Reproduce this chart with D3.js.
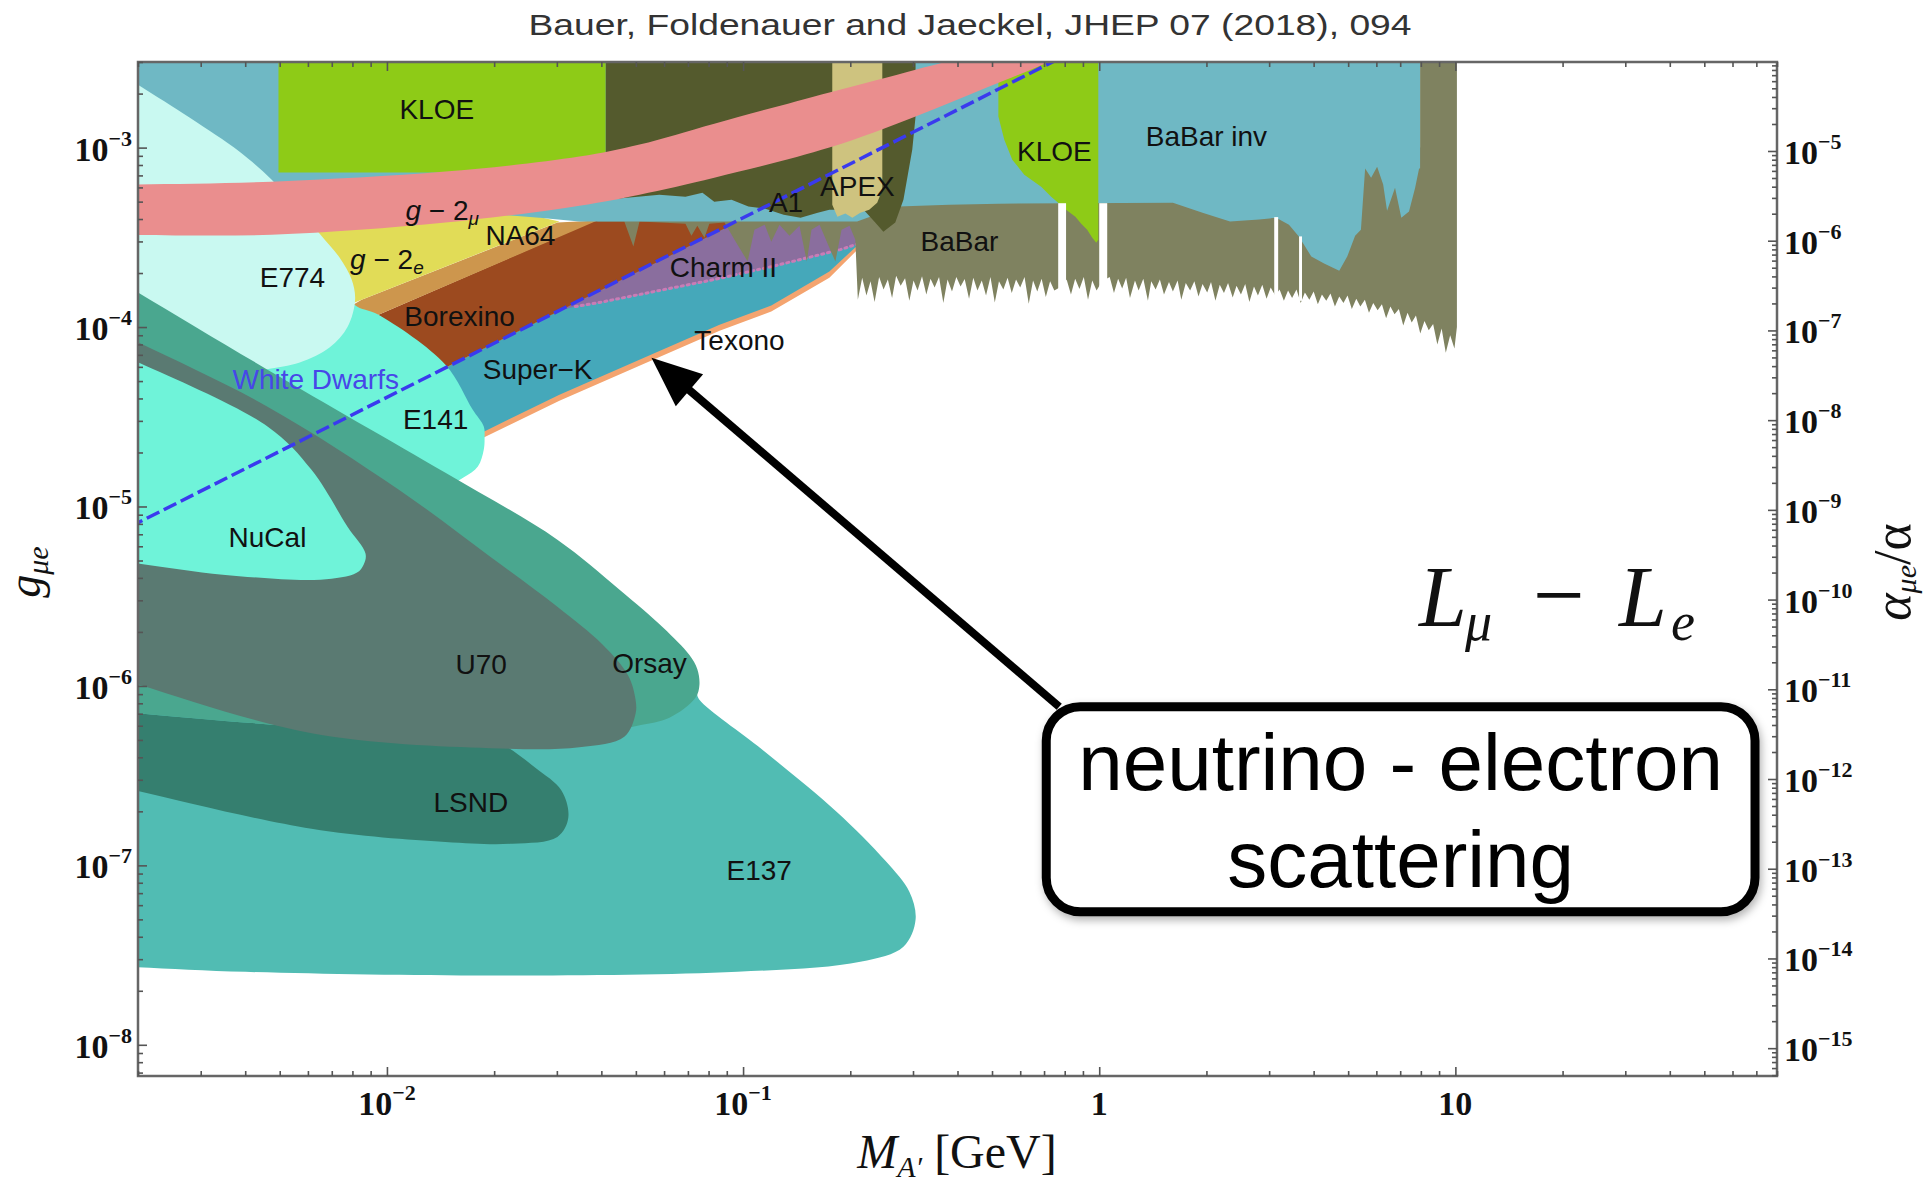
<!DOCTYPE html>
<html>
<head>
<meta charset="utf-8">
<script src="https://cdn.jsdelivr.net/npm/d3@7"></script>
<style>
  body { margin: 0; background: #fff; }
  svg { display: block; }
  .lbl { font-family: "Liberation Sans", Arial, sans-serif; font-size: 28px; }
  .num { font-family: "Liberation Serif", "Times New Roman", serif; font-weight: bold; font-size: 34px; fill: #111; }
</style>
</head>
<body>
<div id="chart"></div>
<script>
// Dark photon L_mu - L_e exclusion plot: mass in GeV, coupling g_mue
const massRange = [0.002, 80];
const gRange = [6.7e-9, 3.0e-3];

const xTickLabels = [
  { v: 1e-2, base: "10", exp: "−2" },
  { v: 1e-1, base: "10", exp: "−1" },
  { v: 1, base: "1", exp: "" },
  { v: 10, base: "10", exp: "" }
];
const gTickLabels = [1e-8, 1e-7, 1e-6, 1e-5, 1e-4, 1e-3];
const alphaTickLabels = [1e-15, 1e-14, 1e-13, 1e-12, 1e-11, 1e-10, 1e-9, 1e-8, 1e-7, 1e-6, 1e-5];

// constraint regions, [mass, g] outlines
const texono = [[1.46e-2, 5.94e-5], [9.96e-2, 4.0e-4], [0.218, 3.9e-4], [0.218, 2.92e-4], [0.1747, 1.88e-4],
  [0.120, 1.22e-4], [8.59e-2, 9.55e-5], [5.53e-2, 6.50e-5], [3.05e-2, 3.89e-5], [1.87e-2, 2.42e-5], [1.55e-2, 2.2e-5]];
const superK = [[1.46e-2, 5.94e-5], [9.96e-2, 4.0e-4], [0.215, 3.9e-4], [0.215, 2.99e-4], [0.1747, 2.04e-4],
  [0.120, 1.32e-4], [8.59e-2, 1.03e-4], [5.53e-2, 7.02e-5], [3.05e-2, 4.20e-5], [1.87e-2, 2.61e-5], [1.55e-2, 2.4e-5]];
const charmUpper = [[3.05e-2, 1.24e-4], [9.96e-2, 4.0e-4], [0.215, 3.9e-4]];
const charmLower = [[3.38e-2, 1.30e-4], [3.95e-2, 1.37e-4], [8.30e-2, 1.84e-4], [0.120, 2.17e-4], [0.1875, 2.70e-4], [0.215, 2.95e-4]];
const borexino = [[8.5e-3, 1.05e-4], [9.47e-3, 1.17e-4], [3.90e-2, 3.97e-4], [9.96e-2, 3.97e-4], [1.46e-2, 5.94e-5], [1.08e-2, 4.37e-5]];
const na64 = [[7.36e-3, 1.20e-4], [8.49e-3, 1.42e-4], [3.01e-2, 3.82e-4], [3.90e-2, 3.92e-4], [9.47e-3, 1.17e-4], [7.36e-3, 9.7e-5]];
const gm2e = [[1.7e-3, 5.0e-4], [2.07e-2, 4.81e-4], [2.51e-2, 4.23e-4], [3.05e-2, 3.87e-4], [8.49e-3, 1.42e-4],
  [6.90e-3, 1.20e-4], [4.11e-3, 8.51e-5], [1.7e-3, 8.51e-5]];

const babarUpper = [[0.036, 5.5e-4], [5.3, 5.5e-4], [5.4, 1.0e-3], [7.96, 1.0e-3], [7.96, 3.5e-3], [10.1, 3.5e-3]];
const babarLower = [
  [0.039, 3.87e-4], [0.0464, 3.87e-4], [0.0492, 2.81e-4], [0.0512, 3.87e-4],
  [0.0689, 3.77e-4], [0.0716, 3.23e-4], [0.0744, 3.67e-4], [0.0779, 3.15e-4], [0.0804, 3.77e-4],
  [0.0887, 3.82e-4], [0.0946, 3.07e-4], [0.103, 2.32e-4], [0.1076, 3.49e-4], [0.115, 3.72e-4],
  [0.120, 2.99e-4], [0.1265, 3.72e-4], [0.135, 3.23e-4], [0.144, 3.67e-4], [0.151, 2.32e-4],
  [0.1556, 3.49e-4], [0.164, 3.72e-4], [0.1747, 2.77e-4], [0.1816, 2.32e-4], [0.189, 3.49e-4],
  [0.199, 3.67e-4], [0.2066, 3.07e-4],
  [0.21, 1.42e-4], [0.216, 1.88e-4], [0.222, 1.5e-4], [0.228, 1.8e-4], [0.234, 1.38e-4], [0.241, 1.9e-4],
  [0.248, 1.62e-4], [0.255, 1.84e-4], [0.262, 1.45e-4], [0.269, 1.93e-4], [0.277, 1.7e-4], [0.285, 1.87e-4],
  [0.293, 1.4e-4], [0.301, 1.82e-4], [0.309, 1.6e-4], [0.318, 1.92e-4], [0.327, 1.52e-4], [0.336, 1.86e-4],
  [0.345, 1.66e-4], [0.355, 1.9e-4], [0.365, 1.36e-4], [0.375, 1.84e-4], [0.386, 1.58e-4], [0.397, 1.9e-4],
  [0.408, 1.68e-4], [0.419, 1.85e-4], [0.431, 1.44e-4], [0.443, 1.88e-4], [0.455, 1.6e-4], [0.468, 1.82e-4],
  [0.481, 1.5e-4], [0.495, 1.9e-4], [0.509, 1.37e-4], [0.523, 1.8e-4], [0.538, 1.62e-4], [0.553, 1.88e-4],
  [0.568, 1.55e-4], [0.584, 1.84e-4], [0.600, 1.66e-4], [0.617, 1.9e-4], [0.634, 1.35e-4], [0.652, 1.82e-4],
  [0.670, 1.58e-4], [0.689, 1.86e-4], [0.708, 1.47e-4], [0.728, 1.8e-4], [0.748, 1.6e-4], [0.79, 1.7e-4],
  [0.81, 1.84e-4], [0.833, 1.52e-4], [0.856, 1.86e-4], [0.880, 1.63e-4], [0.905, 1.9e-4], [0.930, 1.42e-4],
  [0.956, 1.82e-4], [0.983, 1.6e-4], [1.01, 1.75e-4], [1.04, 1.84e-4], [1.07, 1.9e-4], [1.10, 1.55e-4],
  [1.13, 1.86e-4], [1.16, 1.64e-4], [1.19, 1.88e-4], [1.22, 1.45e-4], [1.26, 1.82e-4], [1.29, 1.6e-4],
  [1.33, 1.86e-4], [1.37, 1.4e-4], [1.40, 1.8e-4], [1.44, 1.62e-4], [1.48, 1.84e-4], [1.52, 1.52e-4],
  [1.57, 1.78e-4], [1.61, 1.58e-4], [1.66, 1.82e-4], [1.70, 1.42e-4], [1.75, 1.76e-4], [1.80, 1.6e-4],
  [1.85, 1.8e-4], [1.90, 1.48e-4], [1.95, 1.74e-4], [2.01, 1.56e-4], [2.06, 1.78e-4], [2.12, 1.4e-4],
  [2.18, 1.72e-4], [2.24, 1.55e-4], [2.30, 1.76e-4], [2.37, 1.46e-4], [2.43, 1.7e-4], [2.50, 1.52e-4],
  [2.57, 1.74e-4], [2.64, 1.38e-4], [2.72, 1.68e-4], [2.79, 1.5e-4], [2.87, 1.72e-4], [2.95, 1.44e-4],
  [3.03, 1.66e-4], [3.12, 1.5e-4], [3.21, 1.62e-4], [3.30, 1.4e-4], [3.39, 1.6e-4], [3.48, 1.45e-4],
  [3.58, 1.62e-4], [3.68, 1.36e-4], [3.78, 1.56e-4], [3.89, 1.42e-4], [4.0, 1.58e-4], [4.11, 1.34e-4],
  [4.22, 1.52e-4], [4.34, 1.4e-4], [4.46, 1.54e-4], [4.59, 1.3e-4], [4.72, 1.48e-4], [4.85, 1.36e-4],
  [4.98, 1.5e-4], [5.12, 1.26e-4], [5.27, 1.44e-4], [5.41, 1.3e-4], [5.57, 1.42e-4], [5.72, 1.2e-4],
  [5.88, 1.36e-4], [6.05, 1.24e-4], [6.22, 1.34e-4], [6.39, 1.12e-4], [6.57, 1.3e-4], [6.75, 1.18e-4],
  [6.94, 1.26e-4], [7.14, 1.02e-4], [7.34, 1.2e-4], [7.54, 1.06e-4], [7.75, 1.16e-4], [7.97, 9.2e-5],
  [8.19, 1.08e-4], [8.42, 9.6e-5], [8.66, 1.04e-4], [8.90, 8.0e-5], [9.15, 9.8e-5], [9.40, 7.2e-5],
  [9.67, 9.0e-5], [9.94, 7.6e-5], [10.1, 1.0e-4]
];
const babarInvLower = [[1.7e-3, 4.23e-4], [2.07e-2, 4.23e-4], [2.68e-2, 4.07e-4], [3.47e-2, 3.87e-4], [0.209, 3.87e-4],
  [0.273, 4.69e-4], [0.379, 4.81e-4], [0.521, 4.87e-4], [1.61, 4.93e-4], [1.95, 4.34e-4], [2.33, 3.87e-4],
  [2.81, 3.97e-4], [3.14, 4.07e-4], [3.41, 3.72e-4], [3.64, 3.19e-4], [3.94, 2.47e-4], [4.28, 2.26e-4],
  [4.72, 2.06e-4], [4.97, 2.47e-4], [5.23, 3.23e-4], [5.43, 3.49e-4], [5.58, 7.64e-4], [5.80, 6.80e-4],
  [6.03, 7.83e-4], [6.27, 6.22e-4], [6.43, 4.45e-4], [6.77, 5.98e-4], [7.05, 4.07e-4], [7.41, 4.40e-4],
  [7.71, 5.98e-4], [7.91, 7.64e-4], [7.96, 7.64e-4]];
const babarInvTop = [[1.7e-3, 3.5e-3], [7.96, 3.5e-3]];

const a1 = [[0.0411, 3.5e-3], [0.305, 3.5e-3], [0.305, 1.49e-3], [0.2986, 9.75e-4], [0.282, 5.13e-4], [0.2675, 3.82e-4],
  [0.2477, 3.40e-4], [0.235, 3.82e-4], [0.218, 4.51e-4], [0.1747, 4.51e-4], [0.162, 4.34e-4], [0.145, 4.07e-4],
  [0.130, 4.23e-4], [0.1155, 4.57e-4], [0.1035, 4.69e-4], [0.0928, 5.13e-4], [0.083, 5.0e-4], [0.0769, 5.61e-4],
  [0.0689, 5.33e-4], [0.0582, 5.47e-4], [0.0411, 5.13e-4]];
const apex = [[0.178, 3.5e-3], [0.246, 3.5e-3], [0.246, 5.83e-4], [0.238, 4.93e-4], [0.226, 4.51e-4], [0.2134, 4.34e-4],
  [0.2027, 4.07e-4], [0.1937, 4.29e-4], [0.184, 4.12e-4], [0.178, 4.81e-4]];
const kloeLow = [[4.96e-3, 3.5e-3], [4.11e-2, 3.5e-3], [4.11e-2, 7.26e-4], [4.96e-3, 7.26e-4]];
const kloeHigh = [[0.521, 3.5e-3], [0.994, 3.5e-3], [0.994, 3.07e-4], [0.981, 2.95e-4], [0.956, 3.15e-4], [0.925, 3.49e-4],
  [0.890, 3.77e-4], [0.857, 4.12e-4], [0.807, 4.51e-4], [0.767, 4.93e-4], [0.733, 5.33e-4], [0.687, 6.06e-4],
  [0.616, 7.07e-4], [0.570, 8.57e-4], [0.541, 1.11e-3], [0.521, 1.49e-3]];
// vetoed resonance windows in BaBar: [m1, m2, gTop, gBottom]
const vetoes = [[0.767, 0.807, 4.9e-4, 1.5e-4], [1.0, 1.053, 4.9e-4, 1.5e-4], [3.10, 3.18, 4.1e-4, 1.4e-4], [3.64, 3.71, 3.2e-4, 1.4e-4]];

const e137 = [[1.2e-3, 3.2e-6], [1.7e-3, 3.0e-6], [2.07e-2, 8.37e-7], [5.12e-2, 9.6e-7], [7.29e-2, 9.6e-7], [7.54e-2, 8.37e-7],
  [0.1133, 4.41e-7], [0.183, 1.99e-7], [0.251, 1.06e-7], [0.293, 7.13e-8], [0.305, 4.97e-8], [0.282, 3.52e-8],
  [0.2134, 2.90e-8], [0.0964, 2.55e-8], [1.96e-2, 2.43e-8], [4.01e-3, 2.55e-8], [1.7e-3, 2.75e-8], [1.2e-3, 2.85e-8]];
const lsnd = [[1.2e-3, 8.1e-7], [1.7e-3, 7.3e-7], [6.14e-3, 5.85e-7], [1.95e-2, 4.95e-7], [2.12e-2, 4.70e-7], [2.61e-2, 3.50e-7],
  [3.09e-2, 2.61e-7], [3.23e-2, 1.84e-7], [3.01e-2, 1.44e-7], [2.25e-2, 1.32e-7], [1.46e-2, 1.35e-7], [6.14e-3, 1.60e-7],
  [1.7e-3, 2.8e-7], [1.2e-3, 3.3e-7]];
const e141 = [[1.2e-3, 1.5e-4], [1.7e-3, 1.5e-4], [4.11e-3, 2.70e-4], [7.36e-3, 1.84e-4], [8.11e-3, 1.33e-4], [9.47e-3, 1.17e-4],
  [1.46e-2, 6.17e-5], [1.74e-2, 3.47e-5], [1.87e-2, 2.79e-5], [1.88e-2, 2.42e-5], [1.87e-2, 2.07e-5], [1.80e-2, 1.67e-5],
  [1.64e-2, 1.45e-5], [1.41e-2, 1.28e-5], [5.69e-3, 3.05e-5], [1.7e-3, 9.68e-5], [1.2e-3, 1.0e-4]];
const e774 = [[1.2e-3, 4.3e-3], [1.7e-3, 2.75e-3], [2.79e-3, 1.47e-3], [3.85e-3, 9.50e-4], [4.74e-3, 6.64e-4], [5.69e-3, 4.51e-4],
  [6.51e-3, 3.27e-4], [7.36e-3, 2.44e-4], [7.96e-3, 1.84e-4], [8.14e-3, 1.42e-4], [7.75e-3, 1.0e-4], [6.90e-3, 7.68e-5],
  [5.69e-3, 6.34e-5], [4.54e-3, 5.79e-5], [2.98e-3, 5.09e-5], [1.7e-3, 5.0e-5], [1.2e-3, 5.0e-5]];
const orsay = [[1.2e-3, 2.84e-4], [1.7e-3, 1.89e-4], [4.62e-3, 5.79e-5], [1.46e-2, 1.54e-5], [3.01e-2, 6.53e-6], [4.50e-2, 3.44e-6],
  [5.97e-2, 2.11e-6], [7.06e-2, 1.49e-6], [7.44e-2, 1.24e-6], [7.54e-2, 1.01e-6], [7.35e-2, 8.6e-7], [6.21e-2, 6.65e-7],
  [5.05e-2, 6.0e-7], [3.05e-2, 5.01e-7], [1.50e-2, 5.14e-7], [6.14e-3, 5.85e-7], [1.7e-3, 7.3e-7], [1.2e-3, 8.1e-7]];
const u70 = [[1.2e-3, 1.35e-4], [1.7e-3, 9.6e-5], [4.62e-3, 3.6e-5], [1.08e-2, 1.24e-5], [1.95e-2, 5.25e-6], [3.01e-2, 2.76e-6],
  [4.03e-2, 1.70e-6], [4.76e-2, 1.14e-6], [4.99e-2, 8.37e-7], [4.99e-2, 7.0e-7], [4.64e-2, 5.21e-7], [3.47e-2, 4.55e-7],
  [1.95e-2, 4.5e-7], [6.14e-3, 5.45e-7], [1.7e-3, 1.13e-6], [1.2e-3, 1.4e-6]];
const nucal = [[1.2e-3, 1.04e-4], [1.7e-3, 7.4e-5], [4.62e-3, 2.79e-5], [6.14e-3, 1.60e-5], [7.75e-3, 7.71e-6], [8.71e-3, 5.45e-6],
  [8.6e-3, 4.74e-6], [8.22e-3, 4.27e-6], [6.51e-3, 3.91e-6], [3.46e-3, 4.17e-6], [1.7e-3, 5.0e-6], [1.2e-3, 5.2e-6]];

const gm2MuUpper = [[1.2e-3, 6.1e-4], [1.7e-3, 6.2e-4], [4.74e-3, 6.46e-4], [1.46e-2, 7.35e-4], [3.47e-2, 8.91e-4], [5.12e-2, 1.04e-3],
  [8.30e-2, 1.36e-3], [0.1747, 2.03e-3], [0.305, 2.72e-3], [0.405, 3.21e-3], [0.6, 5.0e-3]];
const gm2MuLower = [[1.2e-3, 3.27e-4], [1.7e-3, 3.27e-4], [4.74e-3, 3.27e-4], [1.46e-2, 3.82e-4], [3.47e-2, 4.75e-4], [5.12e-2, 5.47e-4],
  [8.30e-2, 6.80e-4], [0.1747, 1.0e-3], [0.305, 1.49e-3], [0.491, 2.19e-3], [0.772, 3.21e-3], [1.1, 5.0e-3]];

const whiteDwarfs = [[1.7e-3, 6.9e-6], [0.8, 3.25e-3]];

const regionLabels = [
  { text: "KLOE", m: 1.38e-2, g: 1.63e-3 },
  { text: "g", rest: " − 2", sub: "μ", m: 1.43e-2, g: 4.51e-4 },
  { text: "NA64", m: 2.37e-2, g: 3.23e-4 },
  { text: "g", rest: " − 2", sub: "e", m: 1.0e-2, g: 2.38e-4 },
  { text: "E774", m: 5.43e-3, g: 1.88e-4 },
  { text: "Borexino", m: 1.60e-2, g: 1.14e-4 },
  { text: "White Dwarfs", m: 6.31e-3, g: 5.09e-5, color: "#4747E8" },
  { text: "Super−K", m: 2.65e-2, g: 5.79e-5 },
  { text: "E141", m: 1.37e-2, g: 3.05e-5 },
  { text: "NuCal", m: 4.62e-3, g: 6.70e-6 },
  { text: "U70", m: 1.84e-2, g: 1.31e-6 },
  { text: "Orsay", m: 5.46e-2, g: 1.33e-6 },
  { text: "LSND", m: 1.72e-2, g: 2.23e-7 },
  { text: "E137", m: 0.111, g: 9.33e-8 },
  { text: "Charm II", m: 8.81e-2, g: 2.14e-4 },
  { text: "A1", m: 0.132, g: 4.93e-4 },
  { text: "APEX", m: 0.2094, g: 6.06e-4 },
  { text: "BaBar", m: 0.405, g: 2.99e-4 },
  { text: "KLOE", m: 0.748, g: 9.50e-4 },
  { text: "BaBar inv", m: 2.0, g: 1.15e-3 },
  { text: "Texono", m: 9.77e-2, g: 8.39e-5 }
];

// annotation anchors in data coordinates
const arrowTail = [0.772, 7.66e-7];
const arrowTip = [5.53e-2, 6.75e-5];
const noteBox = [[0.710, 7.66e-7], [69.4, 5.51e-8]];
const noteLines = [["neutrino - electron", 7.02, 2.64e-7], ["scattering", 7.02, 7.60e-8]];
const modelLabelPos = [7.91, 2.17e-6];

// ---------------------------------------------------------------
const W = 1929, H = 1185;
const plotL = 138, plotR = 1777, plotT = 62, plotB = 1076;

const x = d3.scaleLog().domain(massRange).range([plotL, plotR]);
const y = d3.scaleLog().domain(gRange).range([plotB, plotT]);
const alphaOf = g => g * g * 137.036 / (4 * Math.PI);
const yA = d3.scaleLog().domain([alphaOf(gRange[0]), alphaOf(gRange[1])]).range([plotB, plotT]);

const svg = d3.select("#chart").append("svg").attr("width", W).attr("height", H);
svg.append("rect").attr("width", W).attr("height", H).attr("fill", "#fff");

const defs = svg.append("defs");
defs.append("clipPath").attr("id", "plotclip").append("rect")
  .attr("x", plotL).attr("y", plotT).attr("width", plotR - plotL).attr("height", plotB - plotT);
const shadow = defs.append("filter").attr("id", "shadow")
  .attr("x", "-5%").attr("y", "-10%").attr("width", "115%").attr("height", "130%");
shadow.append("feDropShadow").attr("dx", 2).attr("dy", 4).attr("stdDeviation", 4)
  .attr("flood-color", "#000").attr("flood-opacity", 0.3);

const plot = svg.append("g").attr("clip-path", "url(#plotclip)");

const linear = d3.line().x(d => x(d[0])).y(d => y(d[1])).curve(d3.curveLinearClosed);
const smooth = d3.line().x(d => x(d[0])).y(d => y(d[1])).curve(d3.curveCatmullRomClosed.alpha(0.5));

function region(pts, color, gen) {
  plot.append("path").attr("d", (gen || linear)(pts)).attr("fill", color).attr("stroke", "none");
}

// back to front
region(texono, "#F4A46F");
region(superK, "#45A8BA");
region(charmUpper.concat(charmLower.slice().reverse()), "#8A6E9E");
plot.append("path")
  .attr("d", d3.line().x(d => x(d[0])).y(d => y(d[1]))(charmLower))
  .attr("fill", "none").attr("stroke", "#C97CB6").attr("stroke-width", 3)
  .attr("stroke-dasharray", "2,4").attr("stroke-linecap", "round");
region(borexino, "#9C4A1F");
region(na64, "#CD964D");
region(gm2e, "#E1DC57");
region(babarUpper.concat(babarLower.slice().reverse()), "#7F8260");
region(babarInvTop.concat(babarInvLower.slice().reverse()), "#6FB8C4");
region(a1, "#545A2D");
region(apex, "#CEC37F");
region(kloeLow, "#8ECB17");
region(kloeHigh, "#8ECB17");

plot.selectAll(".veto").data(vetoes).enter().append("rect")
  .attr("class", "veto")
  .attr("x", d => x(d[0])).attr("width", d => x(d[1]) - x(d[0]))
  .attr("y", d => y(d[2])).attr("height", d => y(d[3]) - y(d[2]))
  .attr("fill", "#fff");

region(e137, "#51BCB3", smooth);
region(lsnd, "#357F6F", smooth);
region(e141, "#6FF3D9", smooth);
region(e774, "#C9F9F1", smooth);
region(orsay, "#4AA78F", smooth);
region(u70, "#5A7A72", smooth);
region(nucal, "#6FF3D9", smooth);
region(gm2MuUpper.concat(gm2MuLower.slice().reverse()), "#EA8E8E", smooth);

plot.append("path")
  .attr("d", d3.line().x(d => x(d[0])).y(d => y(d[1]))(whiteDwarfs))
  .attr("fill", "none").attr("stroke", "#3A3AEE").attr("stroke-width", 3.5)
  .attr("stroke-dasharray", "14,5");

// region labels
regionLabels.forEach(l => {
  const t = plot.append("text").attr("class", "lbl")
    .attr("x", x(l.m)).attr("y", y(l.g))
    .attr("text-anchor", "middle").attr("dominant-baseline", "central")
    .style("fill", l.color || "#111");
  if (l.sub) {
    t.append("tspan").attr("font-style", "italic").text(l.text);
    t.append("tspan").text(l.rest);
    t.append("tspan").attr("dy", 8).attr("font-size", 19).attr("font-style", "italic").text(l.sub);
  } else {
    t.text(l.text);
  }
});

// frame and ticks
svg.append("rect").attr("x", plotL).attr("y", plotT)
  .attr("width", plotR - plotL).attr("height", plotB - plotT)
  .attr("fill", "none").attr("stroke", "#666").attr("stroke-width", 2.5);

const isDecade = v => Math.abs(Math.log10(v) - Math.round(Math.log10(v))) < 1e-9;
const xt = x.ticks(), yt = y.ticks();
const aDom = yA.domain(), aMinor = [], aMajor = [];
for (let n = -16; n <= -4; n++) {
  for (let k = 1; k <= 9; k++) {
    const v = k * Math.pow(10, n);
    if (v >= aDom[0] && v <= aDom[1]) (k === 1 ? aMajor : aMinor).push(v);
  }
}

function ticks(axisFn, scale, values, size, tx, ty) {
  const g = svg.append("g").attr("transform", `translate(${tx},${ty})`)
    .call(axisFn(scale).tickValues(values).tickSizeInner(-size).tickSizeOuter(0).tickFormat(""));
  g.select(".domain").remove();
  g.selectAll("line").attr("stroke", "#555").attr("stroke-width", 1.6);
}
ticks(d3.axisBottom, x, xt.filter(v => !isDecade(v)), 5, 0, plotB);
ticks(d3.axisBottom, x, xt.filter(isDecade), 9, 0, plotB);
ticks(d3.axisTop, x, xt.filter(v => !isDecade(v)), 5, 0, plotT);
ticks(d3.axisTop, x, xt.filter(isDecade), 9, 0, plotT);
ticks(d3.axisLeft, y, yt.filter(v => !isDecade(v)), 5, plotL, 0);
ticks(d3.axisLeft, y, yt.filter(isDecade), 9, plotL, 0);
ticks(d3.axisRight, yA, aMinor, 5, plotR, 0);
ticks(d3.axisRight, yA, aMajor, 9, plotR, 0);

function power(t, base, exp) {
  t.append("tspan").text(base);
  if (exp) t.append("tspan").attr("dy", -15).attr("font-size", 22).text(exp);
}
xTickLabels.forEach(d => {
  const t = svg.append("text").attr("class", "num").attr("x", x(d.v)).attr("y", 1115).attr("text-anchor", "middle");
  power(t, d.base, d.exp);
});
gTickLabels.forEach(v => {
  const t = svg.append("text").attr("class", "num").attr("x", plotL - 6).attr("y", y(v) + 13).attr("text-anchor", "end");
  power(t, "10", "−" + Math.abs(Math.round(Math.log10(v))));
});
alphaTickLabels.forEach(v => {
  const t = svg.append("text").attr("class", "num").attr("x", plotR + 7).attr("y", yA(v) + 13).attr("text-anchor", "start");
  power(t, "10", "−" + Math.abs(Math.round(Math.log10(v))));
});

// axis titles
const serif = "'Liberation Serif', 'Times New Roman', serif";
const xt1 = svg.append("text").attr("x", 957).attr("y", 1168).attr("text-anchor", "middle")
  .attr("font-family", serif).attr("font-size", 48).attr("fill", "#111");
xt1.append("tspan").attr("font-style", "italic").text("M");
xt1.append("tspan").attr("font-style", "italic").attr("font-size", 30).attr("dy", 9).text("A′");
xt1.append("tspan").attr("dy", -9).text(" [GeV]");

const yt1 = svg.append("text").attr("transform", "translate(40,572) rotate(-90)").attr("text-anchor", "middle")
  .attr("font-family", serif).attr("font-size", 46).attr("font-style", "italic").attr("fill", "#111");
yt1.append("tspan").text("g");
yt1.append("tspan").attr("font-size", 30).attr("dy", 8).text("μe");

const yt2 = svg.append("text").attr("transform", "translate(1910,572) rotate(-90)").attr("text-anchor", "middle")
  .attr("font-family", serif).attr("font-size", 52).attr("font-style", "italic").attr("fill", "#111");
yt2.append("tspan").text("α");
yt2.append("tspan").attr("font-size", 30).attr("dy", 6).text("μe");
yt2.append("tspan").attr("dy", -6).attr("font-style", "normal").text("/α");

// title
svg.append("text").attr("x", 970).attr("y", 35).attr("text-anchor", "middle")
  .attr("font-family", "'Liberation Sans', Arial, sans-serif").attr("font-size", 30)
  .attr("textLength", 883).attr("lengthAdjust", "spacingAndGlyphs")
  .attr("fill", "#333").text("Bauer, Foldenauer and Jaeckel, JHEP 07 (2018), 094");

// model label
const lx = x(modelLabelPos[0]), ly = y(modelLabelPos[1]);
const lm = svg.append("text").attr("y", ly).attr("font-family", serif).attr("font-size", 86)
  .attr("font-style", "italic").attr("fill", "#111");
lm.append("tspan").attr("x", lx).text("L");
lm.append("tspan").attr("x", lx + 46).attr("dy", 14).attr("font-size", 54).text("μ");
lm.append("tspan").attr("x", lx + 114).attr("dy", -14).attr("font-style", "normal").attr("font-size", 92).text("−");
lm.append("tspan").attr("x", lx + 200).text("L");
lm.append("tspan").attr("x", lx + 252).attr("dy", 14).attr("font-size", 54).text("e");

// arrow
const t0 = [x(arrowTail[0]), y(arrowTail[1])], t1 = [x(arrowTip[0]), y(arrowTip[1])];
const len = Math.hypot(t1[0] - t0[0], t1[1] - t0[1]);
const ux = (t1[0] - t0[0]) / len, uy = (t1[1] - t0[1]) / len;
const headL = 50, headW = 21;
const bx = t1[0] - ux * headL, by = t1[1] - uy * headL;
svg.append("line").attr("x1", t0[0]).attr("y1", t0[1]).attr("x2", bx + ux * 4).attr("y2", by + uy * 4)
  .attr("stroke", "#000").attr("stroke-width", 8);
svg.append("polygon")
  .attr("points", [[t1[0], t1[1]], [bx - uy * headW, by + ux * headW], [bx + uy * headW, by - ux * headW]].map(p => p.join(",")).join(" "))
  .attr("fill", "#000");

// annotation box
const bx0 = x(noteBox[0][0]), by0 = y(noteBox[0][1]), bx1 = x(noteBox[1][0]), by1 = y(noteBox[1][1]);
svg.append("rect").attr("x", bx0).attr("y", by0).attr("width", bx1 - bx0).attr("height", by1 - by0)
  .attr("rx", 34).attr("ry", 34).attr("fill", "#fff").attr("stroke", "#000").attr("stroke-width", 9)
  .attr("filter", "url(#shadow)");
noteLines.forEach(d => {
  svg.append("text").attr("x", x(d[1])).attr("y", y(d[2])).attr("text-anchor", "middle")
    .attr("font-family", "'Liberation Sans', Arial, sans-serif").attr("font-size", 80).attr("fill", "#000")
    .text(d[0]);
});
</script>
</body>
</html>
